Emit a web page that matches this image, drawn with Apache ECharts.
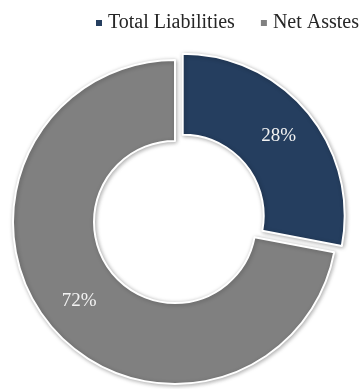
<!DOCTYPE html>
<html>
<head>
<meta charset="utf-8">
<script src="https://cdn.jsdelivr.net/npm/echarts@6/dist/echarts.min.js"></script>
<style>
html,body{margin:0;padding:0;background:#fff;}
#c{width:361px;height:389px;}
</style>
</head>
<body>
<div id="c"></div>
<script>
const categories = ['Total Liabilities', 'Net Asstes'];
const values = [28, 72];
const colors = ['#253E5F', '#808080'];

const chart = echarts.init(document.getElementById('c'), null, {renderer: 'canvas'});
chart.setOption({
  animation: false,
  legend: {
    data: categories,
    right: -3,
    top: 8,
    icon: 'rect',
    itemWidth: 8,
    itemHeight: 8,
    itemGap: 24,
    textStyle: {fontFamily: "'Liberation Serif', serif", fontSize: 20, color: '#262626'},
    selectedMode: false
  },
  series: [{
    type: 'pie',
    center: [175, 222],
    radius: [81, 162],
    startAngle: 90,
    clockwise: true,
    selectedMode: 'single',
    selectedOffset: 10,
    emphasis: {disabled: true},
    itemStyle: {
      borderColor: '#fff',
      borderWidth: 2,
      shadowBlur: 4,
      shadowColor: 'rgba(0,0,0,0.3)',
      shadowOffsetX: 1,
      shadowOffsetY: 1
    },
    label: {
      show: true,
      position: 'inside',
      formatter: '{c}%',
      fontFamily: "'Liberation Serif', serif",
      fontSize: 19,
      color: '#f2f2f2'
    },
    labelLine: {show: false},
    data: categories.map((n, i) => ({
      name: n,
      value: values[i],
      selected: i === 0,
      itemStyle: {color: colors[i]}
    }))
  }]
});
</script>
</body>
</html>
